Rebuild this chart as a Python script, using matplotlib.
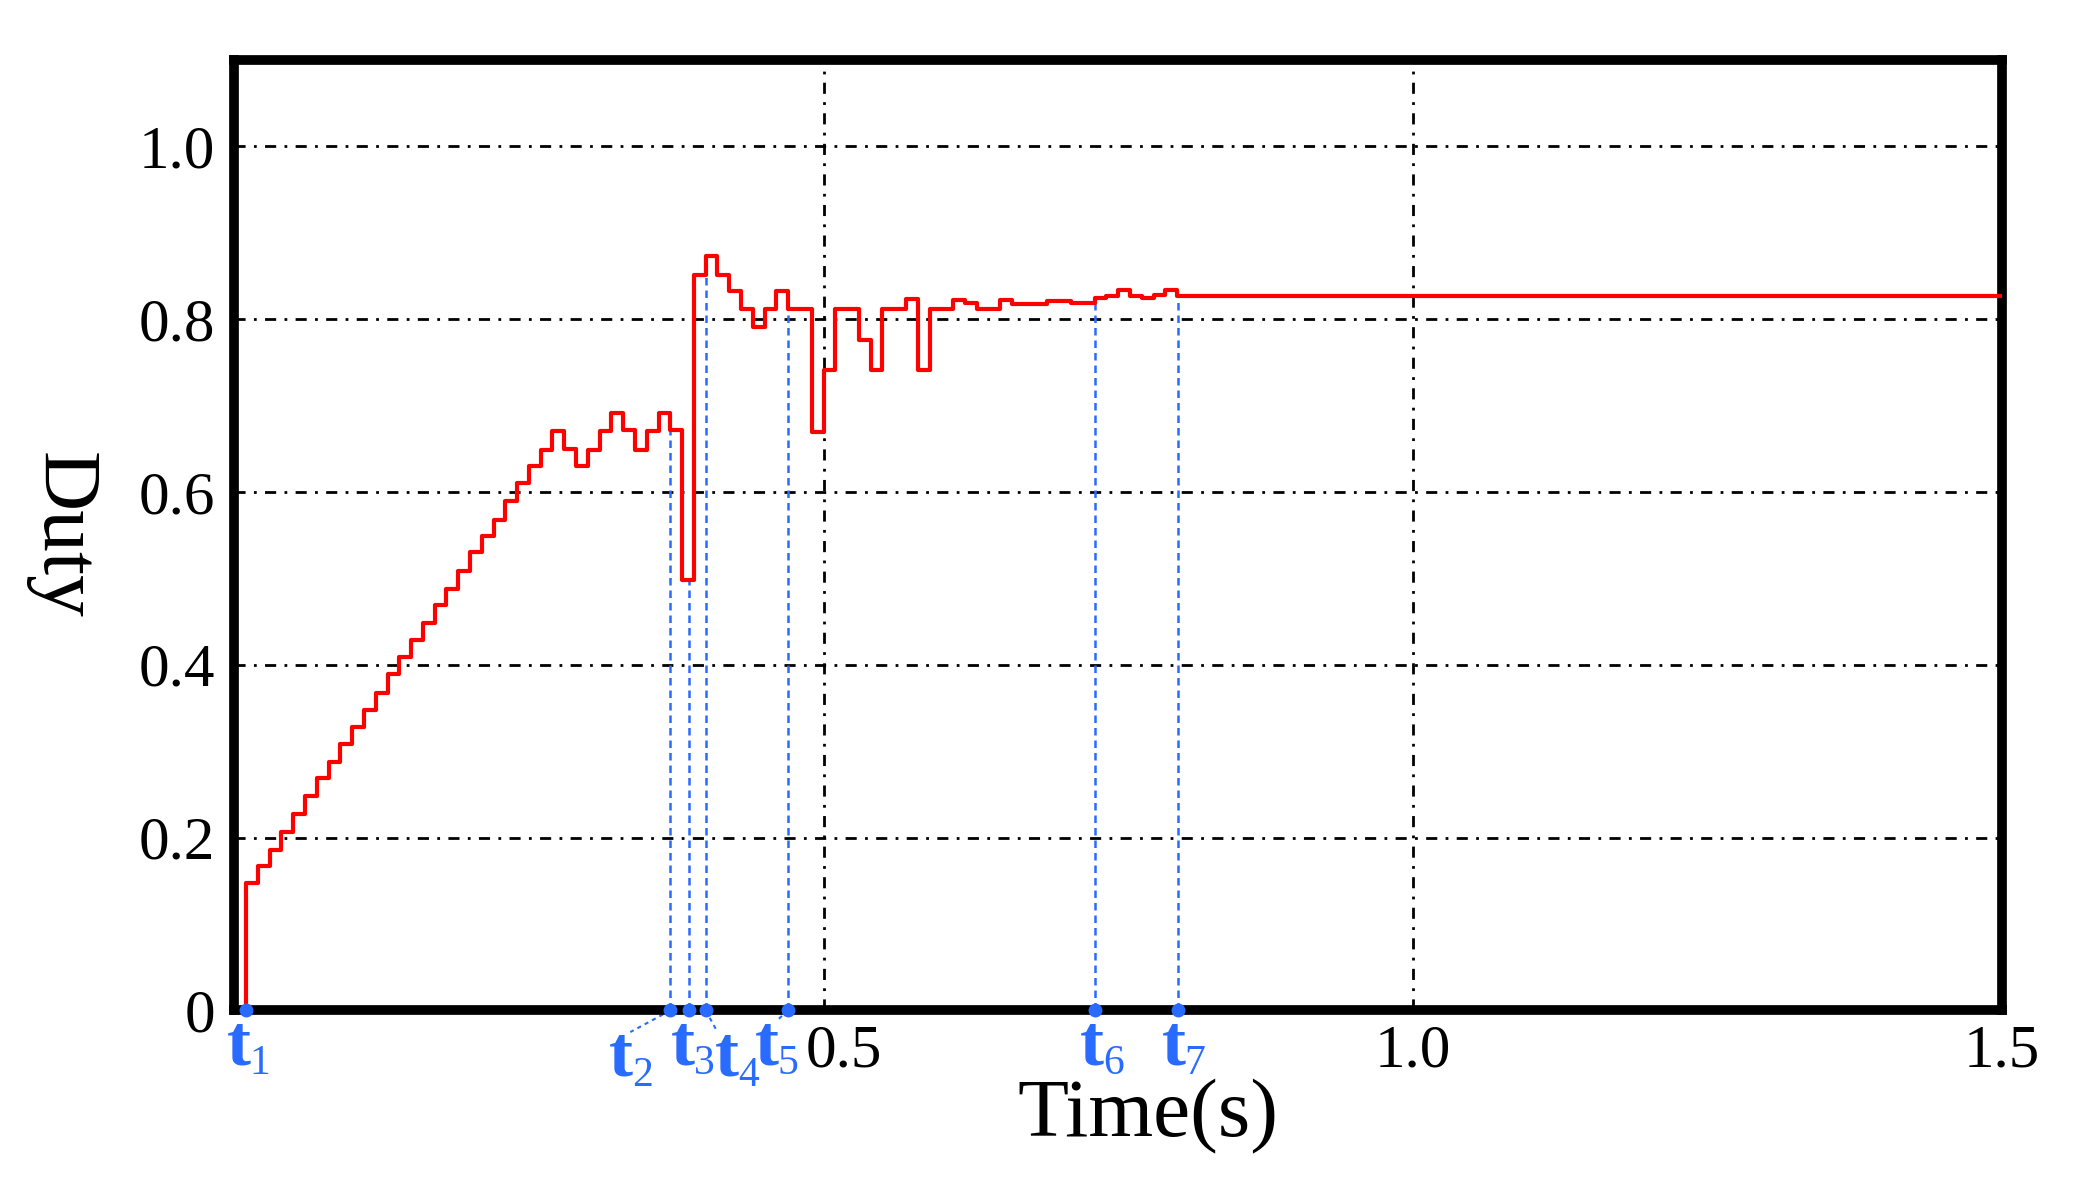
import numpy as np
import matplotlib
matplotlib.use("Agg")
import matplotlib.pyplot as plt
import matplotlib.transforms as mtransforms

# duty level for each 0.01 s control step, starting at t = 0.01 s
duty_steps = [0.147, 0.167, 0.186, 0.207, 0.227, 0.248, 0.269, 0.288, 0.308, 0.328,
              0.348, 0.367, 0.389, 0.409, 0.429, 0.448, 0.469, 0.488, 0.509, 0.530,
              0.549, 0.568, 0.589, 0.610, 0.630, 0.648, 0.670, 0.649, 0.630, 0.648,
              0.670, 0.691, 0.671, 0.648, 0.670, 0.691, 0.671, 0.498,
              0.851, 0.873, 0.851, 0.832, 0.812, 0.791, 0.812, 0.832, 0.812, 0.812,
              0.669, 0.741, 0.812, 0.812, 0.776, 0.741, 0.812, 0.812, 0.823, 0.741,
              0.812, 0.812, 0.822, 0.818, 0.812, 0.812, 0.822, 0.817, 0.817, 0.817,
              0.821, 0.821, 0.818, 0.818, 0.824, 0.827, 0.834, 0.827, 0.824, 0.828,
              0.834, 0.827]
step_dt = 0.01
t_start = 0.01
t_end = 1.5

event_times = [0.01, 0.370, 0.386, 0.400, 0.470, 0.730, 0.801]
event_labels = ["1", "2", "3", "4", "5", "6", "7"]

y_ticks = [0, 0.2, 0.4, 0.6, 0.8, 1.0]
y_ticklabels = ["0", "0.2", "0.4", "0.6", "0.8", "1.0"]
x_ticks = [0.5, 1.0, 1.5]
x_ticklabels = ["0.5", "1.0", "1.5"]

serif = ["Liberation Serif", "DejaVu Serif"]
blue = "#2a6bff"

fig = plt.figure(figsize=(20.92, 11.93), dpi=100)
ax = fig.add_axes([0.112, 0.153, 0.845, 0.797])

n = len(duty_steps)
t_edges = t_start + step_dt * np.arange(n)
tx = np.concatenate([[t_start], t_edges, [t_end]])
ty = np.concatenate([[0.0], duty_steps, [duty_steps[-1]]])
ax.step(tx, ty, where="post", color="red", lw=3, zorder=4)

def duty_at(t):
    idx = int(np.searchsorted(t_edges, t + 1e-9, side="right") - 1)
    idx = max(0, min(idx, n - 1))
    return duty_steps[idx]

for t, lab in zip(event_times, event_labels):
    ax.plot([t, t], [0, duty_at(t)], color=blue, lw=1.8, ls=(0, (3, 2)), zorder=3)
    ax.plot(t, 0, "o", color=blue, ms=9, zorder=6, clip_on=False)

ax.set_xlim(0, 1.5)
ax.set_ylim(0, 1.1)
ax.set_yticks(y_ticks)
ax.set_yticklabels(y_ticklabels)
ax.set_xticks(x_ticks)
ax.set_xticklabels(x_ticklabels)
ax.tick_params(axis="y", length=0, labelsize=44, pad=14)
ax.tick_params(axis="x", length=0, labelsize=44, pad=10)
for lbl in ax.get_xticklabels() + ax.get_yticklabels():
    lbl.set_family(serif)
first = ax.get_xticklabels()[0]
first.set_transform(first.get_transform() +
                    mtransforms.ScaledTranslation(0.2, 0, fig.dpi_scale_trans))
ax.grid(True, color="black", ls=(0, (4, 3, 1, 3)), lw=2)
for s in ax.spines.values():
    s.set_linewidth(7)
ax.set_axisbelow(True)

ax.set_xlabel("Time(s)", fontsize=60, family=serif, va="center")
ax.xaxis.set_label_coords(0.517, -0.112)
ax.set_ylabel("Duty", fontsize=60, family=serif, rotation=-90, va="center")
ax.yaxis.set_label_coords(-0.098, 0.5)

# event labels below the axis
label_pos = {"1": (0.004, 0), "2": (0.328, 1), "3": (0.381, 0), "4": (0.418, 1),
             "5": (0.452, 0), "6": (0.728, 0), "7": (0.797, 0)}
for t, lab in zip(event_times, event_labels):
    lx, low = label_pos[lab]
    ly = -0.055 if low else -0.042
    ax.text(lx, ly, "t", color=blue, fontsize=52, family=serif, ha="center", va="center",
            clip_on=False, fontweight="bold")
    ax.text(lx + 0.018, ly - 0.02, lab, color=blue, fontsize=30, family=serif,
            ha="center", va="center", clip_on=False)
    if abs(lx - t) > 0.01:
        ax.plot([t, lx + 0.008 * np.sign(t - lx)], [0, ly + 0.03], color=blue, lw=1.5,
                ls=(0, (2, 2)), clip_on=False)

fig.savefig("out.png", dpi=100)
